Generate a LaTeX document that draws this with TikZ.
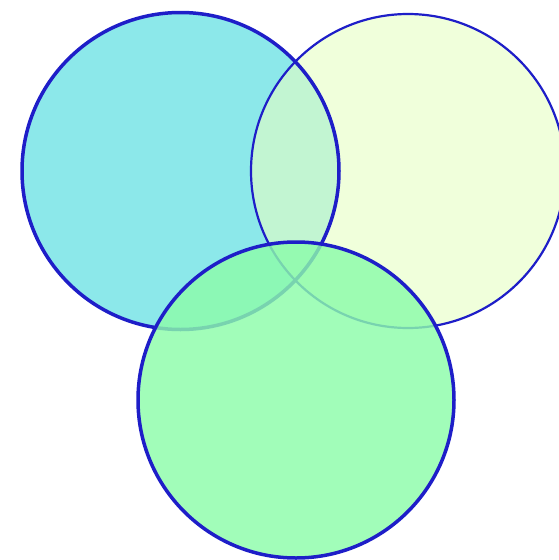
\documentclass[tikz,border=0pt]{standalone}
\definecolor{cyanfill}{RGB}{140,232,234}
\definecolor{yellowfill}{RGB}{230,255,195}
\definecolor{greenfill}{RGB}{140,252,170}
\definecolor{edgeblue}{RGB}{30,30,200}
\tikzset{
  venn/.style={draw=edgeblue, line width=3.5pt},
  vennthin/.style={draw=edgeblue, line width=2.2pt}
}
\begin{document}
\begin{tikzpicture}[x=1pt,y=-1pt]
\useasboundingbox (0,0) rectangle (559,560);
\begin{scope}
\clip (0,0) rectangle (559,560);
% fills
\fill[cyanfill] (180.5,171) circle (158.5);
\fill[yellowfill, fill opacity=0.6] (408,171) circle (157);
% outlines of upper circles
\node[venn, circle, minimum size=317pt, inner sep=0pt, fill=none] (c1) at (180.5,171) {};
\node[vennthin, circle, minimum size=314pt, inner sep=0pt, fill=none] (c2) at (408,171) {};
% bottom circle
\fill[greenfill, fill opacity=0.82] (296,400) circle (158);
\node[venn, circle, minimum size=316pt, inner sep=0pt, fill=none] (c3) at (296,400) {};
\end{scope}
\end{tikzpicture}
\end{document}
